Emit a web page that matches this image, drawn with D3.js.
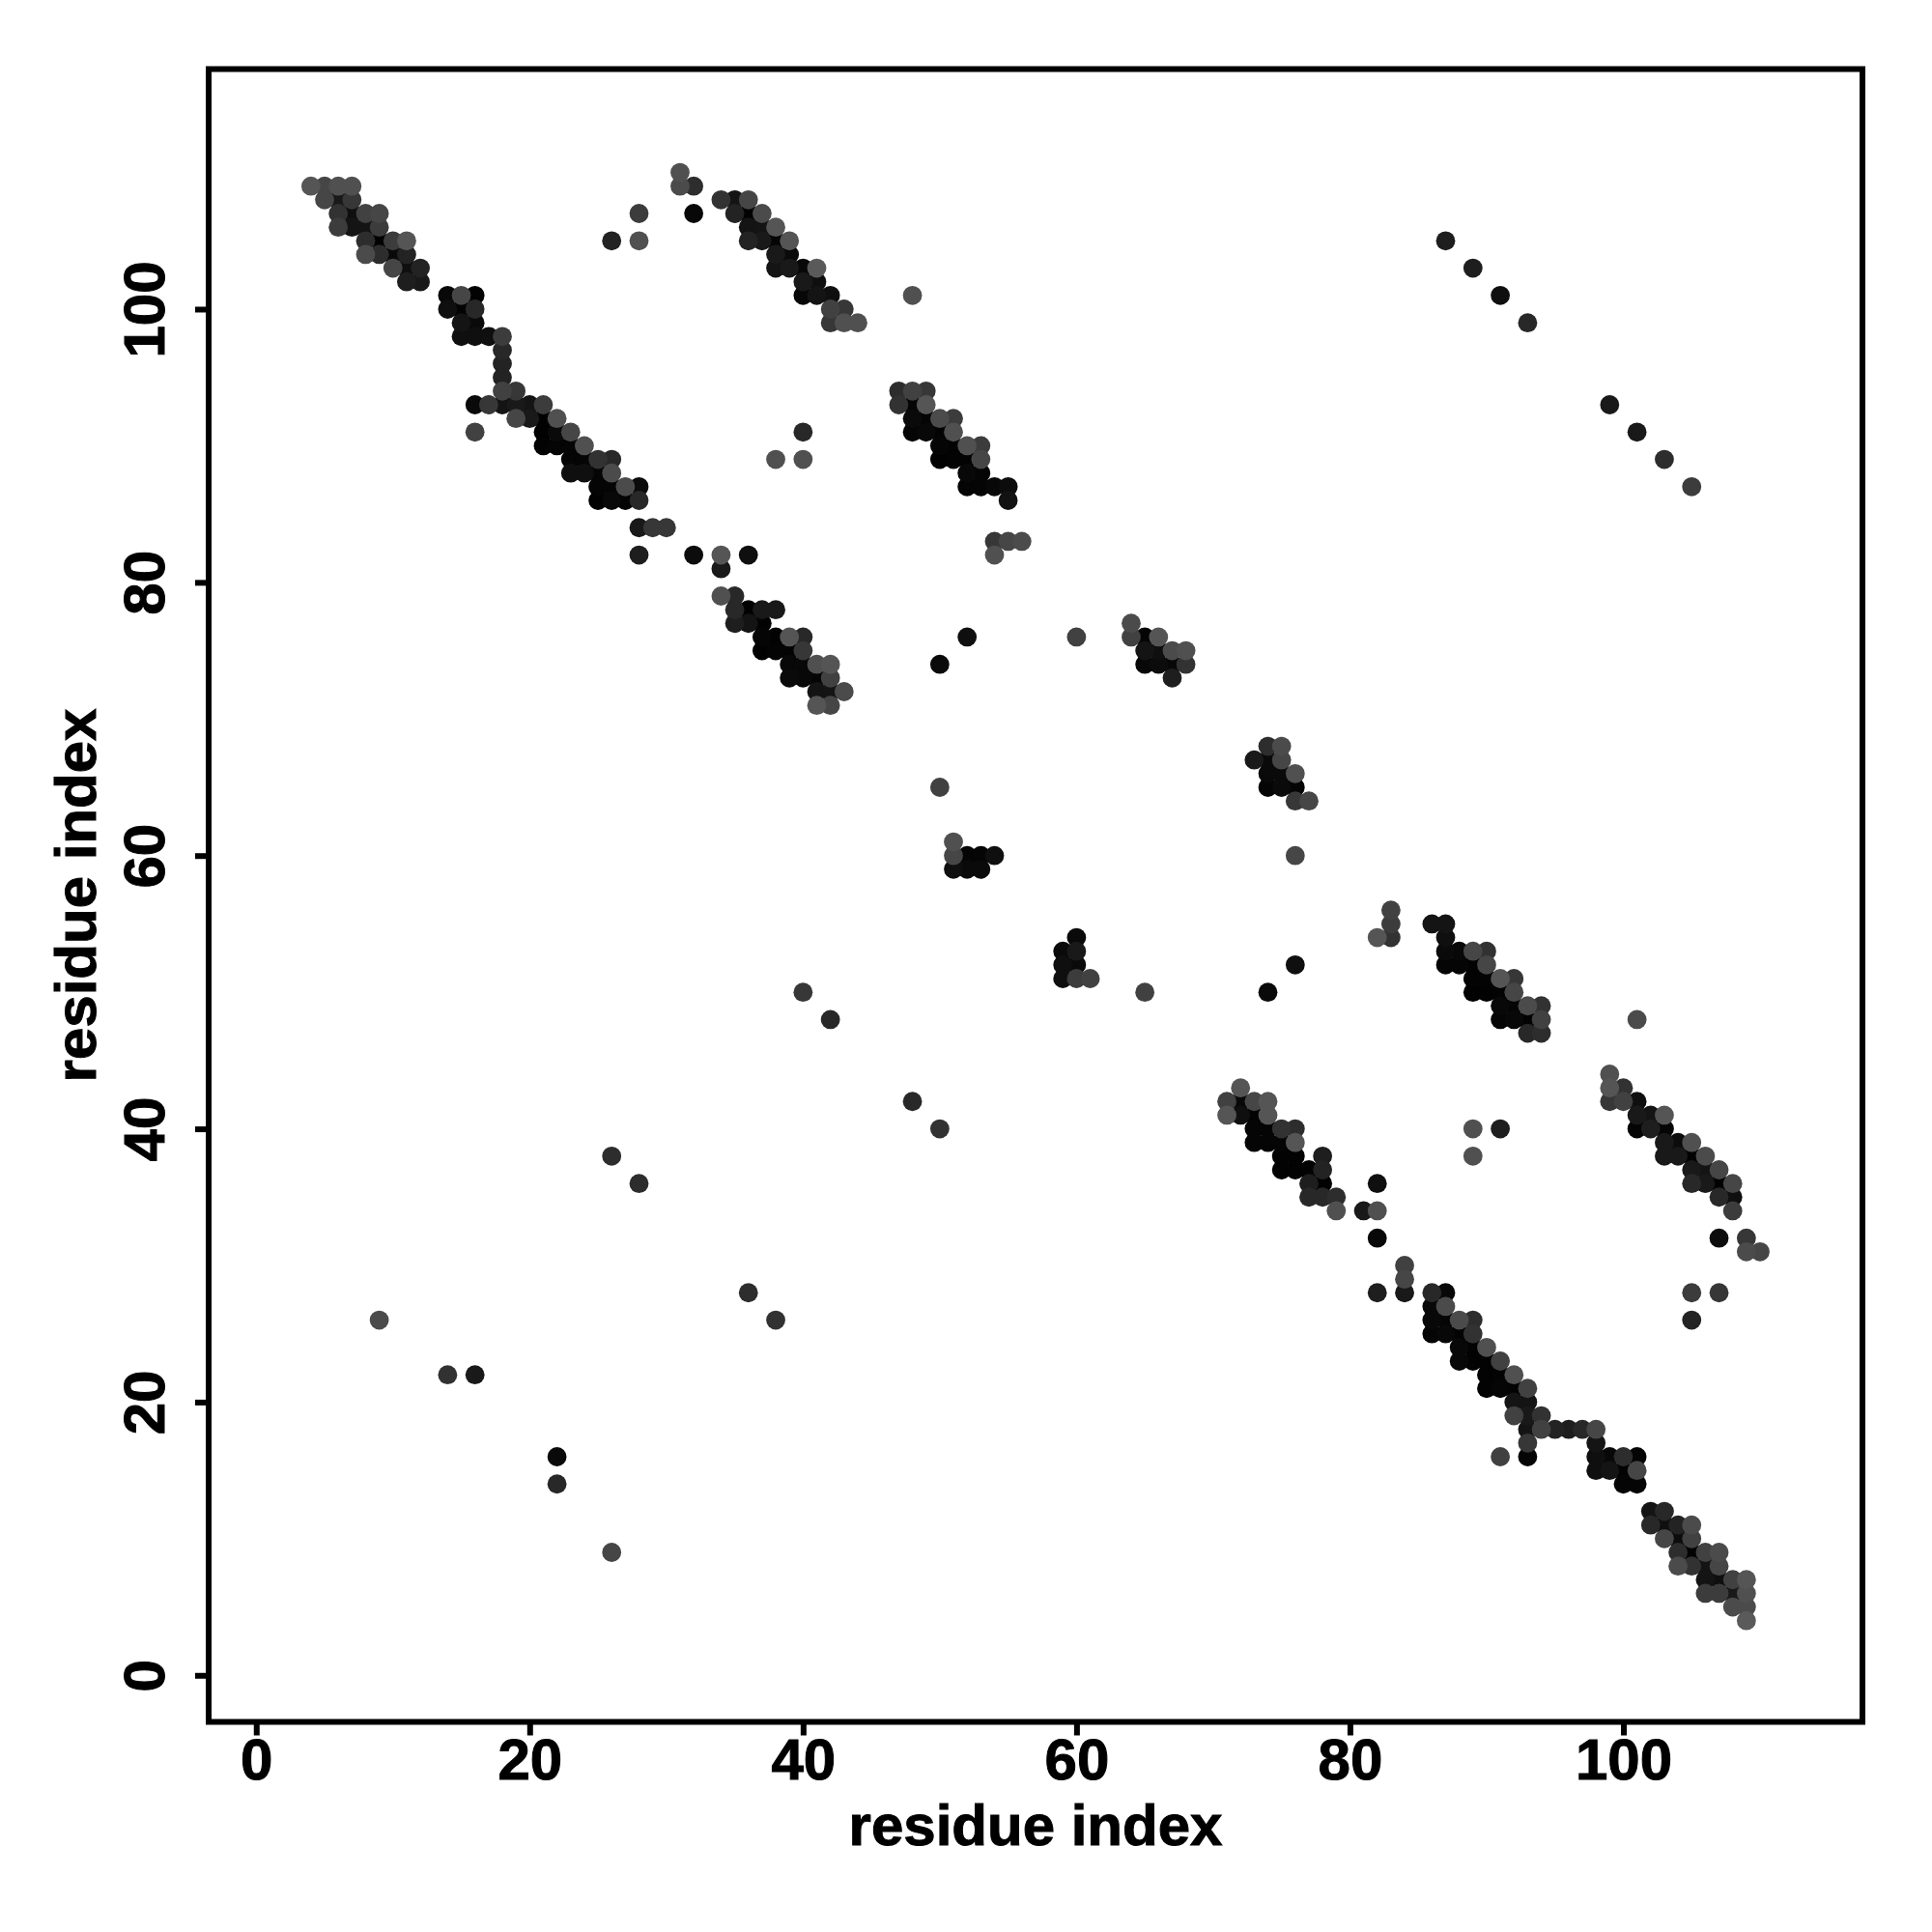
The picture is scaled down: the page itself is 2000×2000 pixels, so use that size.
<!DOCTYPE html>
<html>
<head>
<meta charset="utf-8">
<script src="https://cdn.jsdelivr.net/npm/d3@7"></script>
<style>html,body{margin:0;padding:0;background:#fff}svg{display:block}</style>
</head>
<body>
<svg id="c" width="2000" height="2000"></svg>
<script>
const xTicks = [0, 20, 40, 60, 80, 100];
const yTicks = [0, 20, 40, 60, 80, 100];
const xTitle = "residue index";
const yTitle = "residue index";

// Contact rows: residue index on y, then residue x and grey level per contact
const rowY = [110,109,108,107,106,105,104,103,102,101,100,99,98,97,96,95,94,93,92,91,90,89,88,87,86,84,83,82,81,79,78,77,76,75,74,73,72,71,68,67,66,65,64,61,60,59,56,55,54,53,52,51,50,49,48,47,44,43,42,41,40,39,38,37,36,35,34,32,31,30,29,28,27,26,25,24,23,22,21,20,19,18,17,16,15,14,12,11,10,9,8,7,6,5,4];
const rowX = [
[31],[4,5,6,7,31,32],[5,6,7,34,35,36],[6,7,8,9,28,32,35,36,37],[6,7,8,9,36,37,38],
[8,9,10,11,26,28,36,37,38,39,87],[8,9,10,11,38,39],[10,11,12,38,39,40,41,89],[11,12,40,41],
[14,15,16,40,41,42,48,91],[14,15,16,42,43],[15,16,42,43,44,93],[15,16,17,18],[18],[18],[18],
[18,19,47,48,49],[16,17,18,19,20,21,47,48,49,99],[19,20,21,22,48,49,50,51],
[16,21,22,23,40,48,49,50,51,101],[21,22,23,24,50,51,52,53],[23,24,25,26,38,40,50,51,52,53,103],
[23,24,25,26,52,53],[25,26,27,28,52,53,54,55,105],[25,26,27,28,55],[28,29,30],[54,55,56],
[28,32,34,36,54],[34],[34,35],[35,36,37,38],[35,36,37,64],[37,38,39,40,52,60,64,65,66],
[37,38,39,40,65,66,67,68],[39,40,41,42,50,65,66,67,68],[39,40,41,42,67],[41,42,43],[41,42],
[74,75],[73,74,75],[74,75,76],[50,74,75,76],[76,77],[51],[51,52,53,54,76],[51,52,53],[83],
[83,86,87],[60,82,83,87],[59,60,87,88,89,90],[59,60,76,87,88,89,90],[59,60,61,89,90,91,92],
[40,65,74,89,90,91,92],[91,92,93,94],[42,91,92,93,94,101],[93,94],[99],[72,99,100],
[48,71,72,73,74,99,100,101],[71,72,73,74,101,102,103],[50,73,74,75,76,89,91,101,102,103],
[73,74,75,76,103,104,105],[26,75,76,78,89,103,104,105,106],[75,76,77,78,105,106,107],
[28,77,78,82,105,106,107,108],[77,78,79,107,108],[79,81,82,108],[82,107,109],[109,110],[84],[84],
[36,82,84,86,87,105,107],[86,87],[9,38,86,87,88,89,105],[86,87,88,89],[88,89,90],[88,89,90,91],
[14,16,90,91,92],[90,91,92,93],[92,93],[92,93,94],[93,94,95,96,97,98],[93,98],
[22,91,93,98,99,100,101],[98,99,100,101],[22,100,101],[102,103],[102,103,104,105],[103,104,105],
[26,104,105,106,107],[104,105,106,107],[106,107,108,109],[106,107,108,109],[108,109],[109]
];
const rowShade = [
[80],[85,70,80,80,75,45],[70,25,55,50,20,70],[50,15,65,70,60,8,35,2,75],[60,20,20,60,20,20,85],
[45,2,60,85,35,80,35,25,5,85,30],[75,45,10,35,25,10],[70,15,35,20,25,8,90,30],[30,25,25,15],
[8,70,3,8,20,15,80,15],[15,3,40,65,55],[20,10,55,80,80,40],[15,15,15,60],[40],[35],[35],
[65,55,45,65,55],[10,55,20,25,20,60,50,5,85,25],[70,25,2,80,10,5,75,60],
[65,2,10,70,40,5,8,3,80,25],[3,5,5,80,5,3,80,60],[5,5,50,40,80,80,2,3,3,70,45],
[15,15,5,75,8,5],[5,5,75,10,5,5,8,12,60],[2,8,4,40,18],[25,55,55],[55,70,75],
[30,12,85,15,80],[25],[80,40],[40,2,25,25],[30,20,3,75],[5,3,85,40,15,65,65,5,85],
[2,4,3,55,20,15,75,80],[8,8,80,85,10,8,12,8,50],[10,8,5,65,30],[20,20,75],[85,70],
[45,75],[25,10,70],[10,10,80],[65,5,10,5],[55,70],[80],[70,5,5,15,70],[15,10,10],[65],
[60,20,20],[10,85,50,15],[10,25,10,8,70,50],[15,10,15,5,5,3,70],[15,60,65,3,3,85,55],
[55,65,10,2,2,3,70],[8,5,75,50],[40,5,8,3,65,75],[40,45],[80],[85,85,50],
[40,65,8,70,85,55,65,15],[85,15,3,85,25,20,85],[50,5,5,50,45,80,30,5,30,5],
[5,5,5,85,25,12,80],[45,3,3,30,80,25,25,2,75],[3,3,3,35,25,20,70],
[45,30,2,15,40,25,2,70],[40,40,45,40,15],[80,25,80,60],[8,12,55],[75,70],[65],[70],
[45,30,25,40,8,60,55],[8,75],[75,50,8,5,75,45,35],[5,8,3,50],[8,3,80],[8,3,3,65],
[50,25,3,3,80],[3,5,3,65],[20,20],[65,25,50],[20,65,35,30,40,70],[55,20],
[10,65,5,15,8,45,5],[15,20,3,70],[40,5,5],[20,40],[40,15,35,75],[70,12,65],
[70,45,3,65,75],[75,50,20,70],[20,15,65,85],[60,60,25,80],[75,75],[90]
];

const contacts = rowY.flatMap((y, r) => rowX[r].map((x, k) => ({x, y, shade: rowShade[r][k]})))
  .sort((a, b) => a.shade - b.shade);

const frame = {left: 216, right: 1928, top: 71.5, bottom: 1782.5};
const font = "'Liberation Sans', Arial, sans-serif";
const fontSize = 60;
const x = d3.scaleLinear().domain([-3.48, 117.49]).range([frame.left, frame.right]);
const y = d3.scaleLinear().domain([-3.41, 117.57]).range([frame.bottom, frame.top]);
const svg = d3.select("#c");

svg.append("g").selectAll("circle").data(contacts).join("circle")
  .attr("cx", d => x(d.x)).attr("cy", d => y(d.y)).attr("r", 9.9)
  .attr("fill", d => d3.rgb(d.shade, d.shade, d.shade));

svg.append("rect").attr("x", frame.left).attr("y", frame.top)
  .attr("width", frame.right - frame.left).attr("height", frame.bottom - frame.top)
  .attr("fill", "none").attr("stroke", "#000").attr("stroke-width", 6);

const gx = svg.append("g").attr("transform", `translate(0,${frame.bottom})`)
  .call(d3.axisBottom(x).tickValues(xTicks).tickFormat(d3.format("d")).tickSize(14).tickPadding(12));
const gy = svg.append("g").attr("transform", `translate(${frame.left},0)`)
  .call(d3.axisLeft(y).tickValues(yTicks).tickFormat(d3.format("d")).tickSize(14));
[gx, gy].forEach(g => {
  g.select(".domain").remove();
  g.selectAll("line").attr("stroke", "#000").attr("stroke-width", 6);
  g.selectAll("text").attr("fill", "#000").attr("stroke", "#000").attr("stroke-width", 1)
    .style("font", `bold ${fontSize}px ${font}`);
});
gx.selectAll("text").attr("dy", null).attr("y", 59);
gy.selectAll("text").attr("x", null).attr("dy", null).attr("text-anchor", "middle")
  .attr("transform", "translate(-67,0) rotate(-90)").attr("y", 0).attr("dy", "0.35em");

svg.append("text").text(xTitle).attr("x", 1072).attr("y", 1910).attr("text-anchor", "middle")
  .attr("fill", "#000").attr("stroke", "#000").attr("stroke-width", 1).style("font", `bold ${fontSize}px ${font}`);
svg.append("text").text(yTitle).attr("transform", "translate(99,927) rotate(-90)").attr("text-anchor", "middle")
  .attr("fill", "#000").attr("stroke", "#000").attr("stroke-width", 1).style("font", `bold ${fontSize}px ${font}`);
</script>
</body>
</html>
